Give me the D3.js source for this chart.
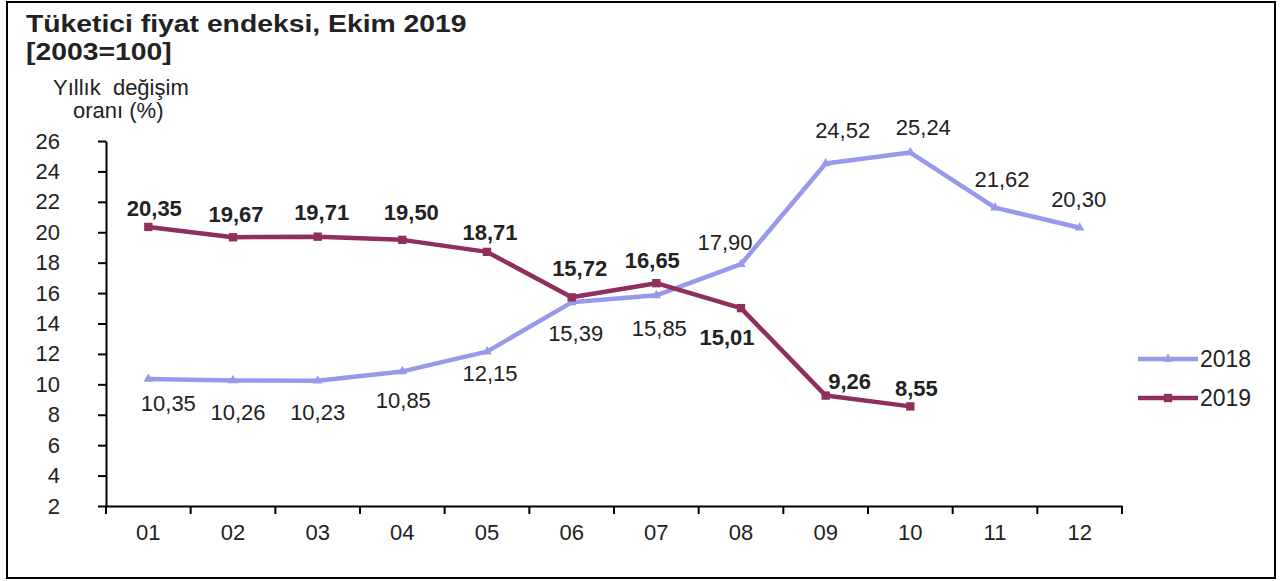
<!DOCTYPE html>
<html>
<head>
<meta charset="utf-8">
<script src="https://cdn.jsdelivr.net/npm/d3@7"></script>
<style>
  html, body { margin: 0; padding: 0; background: #fff; }
  svg { display: block; }
  text { font-family: "Liberation Sans", Arial, sans-serif; fill: #222; }
</style>
</head>
<body>
<svg id="chart" width="1285" height="581"></svg>
<script>
// ---- data ----
const months = ["01","02","03","04","05","06","07","08","09","10","11","12"];
const yTicks = [2,4,6,8,10,12,14,16,18,20,22,24,26];
const series2018 = [10.35,10.26,10.23,10.85,12.15,15.39,15.85,17.90,24.52,25.24,21.62,20.30];
const series2019 = [20.35,19.67,19.71,19.50,18.71,15.72,16.65,15.01,9.26,8.55];
const seriesNames = ["2018","2019"];
const titleLines = ["Tüketici fiyat endeksi, Ekim 2019","[2003=100]"];
const yTitleLines = ["Yıllık  değişim","oranı (%)"];

// label placement (pixel offsets of label centre from its point)
const labelOff2018 = [[20,24],[5,32],[0,31],[1,29],[3,22],[4,31],[3,33],[-16,-22],[17,-33],[13,-25],[7,-28],[-1,-28]];
const labelOff2019 = [[6,-19],[3,-23],[4,-24],[9,-28],[3,-20],[8,-29],[-4,-23],[-14,29],[24,-14],[6,-18]];

const colors = {"2018":"#9999ec","2019":"#8e2f5e"};
const fmt = v => v.toFixed(2).replace(".", ",");

const svg = d3.select("#chart");

// frame
svg.append("rect").attr("x",7).attr("y",2).attr("width",1268).attr("height",576)
  .attr("fill","none").attr("stroke","#000").attr("stroke-width",2);

// titles
svg.append("g").selectAll("text").data(titleLines).join("text")
  .attr("transform",(d,i)=>`translate(26,${32+i*28}) scale(1.18,1)`)
  .attr("font-size",24).attr("font-weight","bold").attr("fill","#111")
  .text(d=>d);
svg.append("g").selectAll("text").data(yTitleLines).join("text")
  .attr("x",(d,i)=> i===0 ? 53 : 73).attr("y",(d,i)=>95+i*23)
  .attr("font-size",22).attr("xml:space","preserve").style("white-space","pre")
  .text(d=>d);

// scales
const x = d3.scaleBand().domain(months).range([106,1122]).paddingInner(0).paddingOuter(0);
const y = d3.scaleLinear().domain([2,26]).range([506,141]);
const cx = m => x(m) + x.bandwidth()/2;

// y axis
const yAxis = svg.append("g").attr("transform","translate(106,0)")
  .call(d3.axisLeft(y).tickValues(yTicks).tickSize(8).tickSizeOuter(0).tickPadding(38).tickFormat(d3.format("d")));
yAxis.select(".domain").attr("stroke","#000").attr("stroke-width",2);
yAxis.selectAll(".tick line").attr("stroke","#000").attr("stroke-width",2);
yAxis.selectAll(".tick text").attr("font-size",22).attr("font-family","Liberation Sans, Arial, sans-serif").attr("fill","#222");

// x axis (labels)
const xAxis = svg.append("g").attr("transform","translate(0,506)")
  .call(d3.axisBottom(x).tickSize(0).tickPadding(18));
xAxis.select(".domain").attr("stroke","#000").attr("stroke-width",2);
xAxis.selectAll(".tick text").attr("font-size",22).attr("font-family","Liberation Sans, Arial, sans-serif").attr("fill","#222");
// x boundary ticks
const bounds = months.map(m=>x(m)).concat([x(months[months.length-1]) + x.bandwidth()]);
svg.append("g").selectAll("line").data(bounds).join("line")
  .attr("x1",d=>d).attr("x2",d=>d).attr("y1",506).attr("y2",514)
  .attr("stroke","#000").attr("stroke-width",2);

// lines
const line = d3.line().x((d,i)=>cx(months[i])).y(d=>y(d));
function drawSeries(vals, name, symbol, size, offs, bold){
  const g = svg.append("g");
  g.append("path").datum(vals).attr("d",line)
    .attr("fill","none").attr("stroke",colors[name]).attr("stroke-width",4.5)
    .attr("stroke-linejoin","round").attr("stroke-linecap","round");
  g.selectAll("path.m").data(vals).join("path").attr("class","m")
    .attr("transform",(d,i)=>`translate(${cx(months[i])},${y(d)})`)
    .attr("d", d3.symbol().type(symbol).size(size)())
    .attr("fill",colors[name]);
  g.selectAll("text").data(vals).join("text")
    .attr("x",(d,i)=>cx(months[i]) + offs[i][0])
    .attr("y",(d,i)=>y(d) + offs[i][1])
    .attr("dy","0.35em").attr("text-anchor","middle")
    .attr("font-size",22).attr("font-weight", bold ? "bold" : "normal")
    .attr("fill", bold ? "#111" : "#222")
    .text(d=>fmt(d));
}
drawSeries(series2018, "2018", d3.symbolTriangle, 40, labelOff2018, false);
drawSeries(series2019, "2019", d3.symbolSquare, 70, labelOff2019, true);

// legend
const legend = svg.append("g").selectAll("g").data(seriesNames).join("g")
  .attr("transform",(d,i)=>`translate(1138,${359 + i*39})`);
legend.append("line").attr("x1",0).attr("x2",60).attr("y1",0).attr("y2",0)
  .attr("stroke",d=>colors[d]).attr("stroke-width",4.5);
legend.append("path").attr("transform","translate(30,0)")
  .attr("d",(d,i)=>d3.symbol().type(i===0?d3.symbolTriangle:d3.symbolSquare).size(i===0?40:70)())
  .attr("fill",d=>colors[d]);
legend.append("text").attr("x",62).attr("y",0).attr("dy","0.35em")
  .attr("font-size",23).text(d=>d);
</script>
</body>
</html>
